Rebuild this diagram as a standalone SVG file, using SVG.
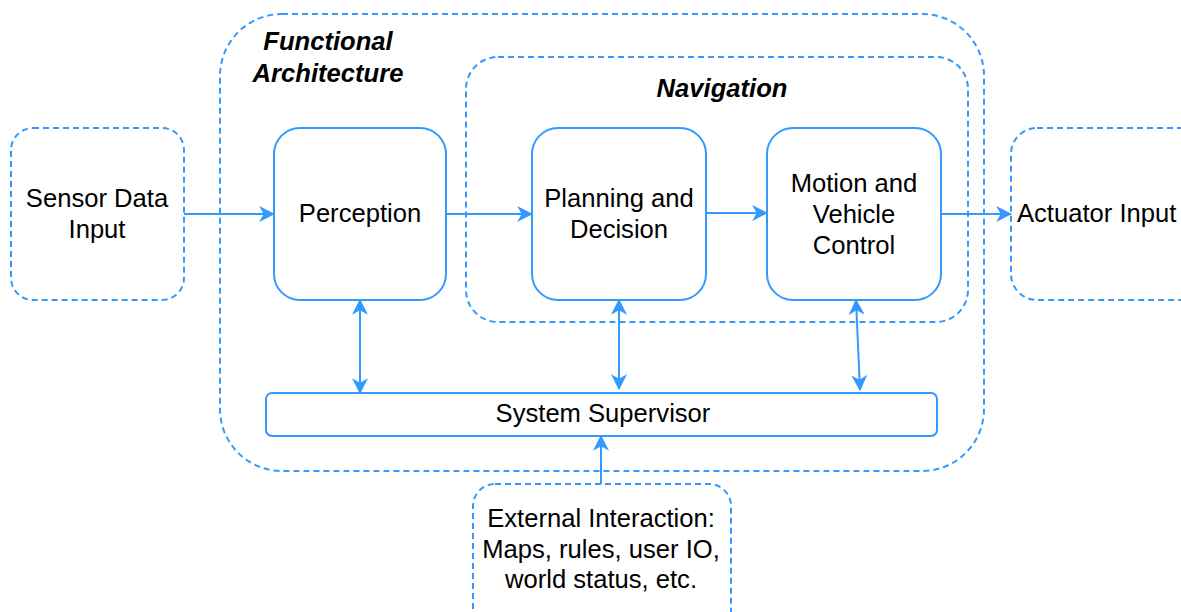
<svg xmlns="http://www.w3.org/2000/svg" width="1181" height="612" viewBox="0 0 1181 612">
  <defs>
    <style>
      .solid { fill: #ffffff; stroke: #3399ff; stroke-width: 2; }
      .dash { fill: none; stroke: #3399ff; stroke-width: 2; stroke-dasharray: 6 4; }
      .edge { fill: none; stroke: #3399ff; stroke-width: 2; }
      .lbl { font-family: "Liberation Sans", Arial, sans-serif; font-size: 25.6px; fill: #000000; text-anchor: middle; }
      .title { font-family: "Liberation Sans", Arial, sans-serif; font-size: 25.6px; font-weight: bold; font-style: italic; fill: #000000; text-anchor: middle; }
    </style>
    <marker id="arrow" viewBox="0 0 14 14" refX="13" refY="7" markerWidth="16" markerHeight="16" markerUnits="userSpaceOnUse" orient="auto-start-reverse">
      <path d="M0,0 L14,7 L0,14 L4,7 Z" fill="#3399ff"/>
    </marker>
  </defs>

  <!-- containers -->
  <g id="functional-architecture">
    <rect class="dash" x="220" y="14" width="764" height="457" rx="62"/>
    <text class="title" x="328" y="50">Functional</text>
    <text class="title" x="328" y="82">Architecture</text>
  </g>
  <g id="navigation">
    <rect class="dash" x="466" y="57" width="502" height="265" rx="32"/>
    <text class="title" x="722" y="97">Navigation</text>
  </g>

  <!-- nodes -->
  <g id="sensor-data-input">
    <rect class="dash" x="11" y="128" width="173" height="172" rx="22"/>
    <text class="lbl" x="97" y="207">Sensor Data</text>
    <text class="lbl" x="97" y="238">Input</text>
  </g>
  <g id="perception">
    <rect class="solid" x="274" y="128" width="172" height="172" rx="26"/>
    <text class="lbl" x="360" y="222">Perception</text>
  </g>
  <g id="planning-decision">
    <rect class="solid" x="532" y="128" width="174" height="172" rx="26"/>
    <text class="lbl" x="619" y="207">Planning and</text>
    <text class="lbl" x="619" y="238">Decision</text>
  </g>
  <g id="motion-control">
    <rect class="solid" x="767" y="128" width="174" height="172" rx="26"/>
    <text class="lbl" x="854" y="192">Motion and</text>
    <text class="lbl" x="854" y="223">Vehicle</text>
    <text class="lbl" x="854" y="254">Control</text>
  </g>
  <g id="actuator-input">
    <rect class="dash" x="1011" y="128" width="200" height="172" rx="26"/>
    <text class="lbl" x="1017" y="222" style="text-anchor:start">Actuator Input</text>
  </g>
  <g id="system-supervisor">
    <rect class="solid" x="266" y="393" width="671" height="43" rx="6"/>
    <text class="lbl" x="603" y="422">System Supervisor</text>
  </g>
  <g id="external-interaction">
    <rect class="dash" x="473" y="484" width="258" height="150" rx="22"/>
    <text class="lbl" x="601" y="527">External Interaction:</text>
    <text class="lbl" x="601" y="558">Maps, rules, user IO,</text>
    <text class="lbl" x="601" y="588">world status, etc.</text>
  </g>

  <!-- connectors -->
  <g id="connectors">
    <path class="edge" d="M184,214 L274,214" marker-end="url(#arrow)"/>
    <path class="edge" d="M446,214 L532,214" marker-end="url(#arrow)"/>
    <path class="edge" d="M706,213 L767,213" marker-end="url(#arrow)"/>
    <path class="edge" d="M941,214 L1011,214" marker-end="url(#arrow)"/>
    <path class="edge" d="M360,300 L360,393" marker-start="url(#arrow)" marker-end="url(#arrow)"/>
    <path class="edge" d="M619,300 L619,389" marker-start="url(#arrow)" marker-end="url(#arrow)"/>
    <path class="edge" d="M856,300 L860,390" marker-start="url(#arrow)" marker-end="url(#arrow)"/>
    <path class="edge" d="M601,484 L601,436" marker-end="url(#arrow)"/>
  </g>
</svg>
